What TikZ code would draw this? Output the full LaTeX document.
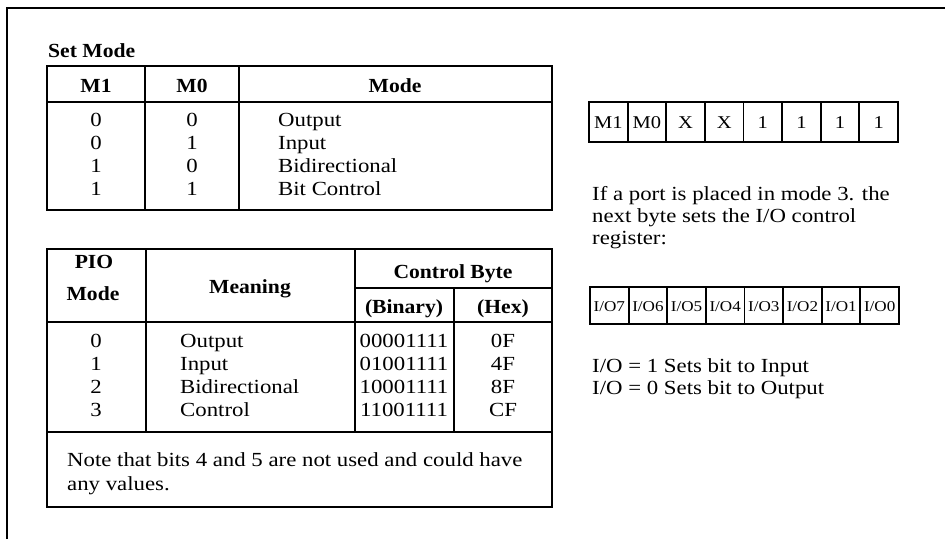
\documentclass[tikz,border=0pt]{standalone}
\usepackage{fontspec}
\setmainfont{Liberation Serif}[FakeStretch=1.14,BoldFeatures={FakeStretch=1.08}]
\begin{document}
\begin{tikzpicture}[x=1pt,y=-1pt,
  rule/.style={line width=1.8pt},
  frame/.style={line width=2pt},
  txt/.style={inner sep=0pt,font=\fontsize{20}{23}\selectfont},
  hdr/.style={inner sep=0pt,font=\fontsize{20}{23}\selectfont\bfseries},
  lt/.style={txt,anchor=base west},
  ct/.style={txt,anchor=base},
  ch/.style={hdr,anchor=base},
  bitA/.style={inner sep=0pt,anchor=base,font=\fontsize{18}{20}\selectfont},
  bitB/.style={inner sep=0pt,anchor=base,font=\fontsize{15}{17}\selectfont}]
\useasboundingbox (0,0) rectangle (945,539);
\fill[white] (0,0) rectangle (945,539);
% outer frame (left and top only)
\draw[frame] (7,539) -- (7,8) -- (945,8);

% ---------- Set Mode table ----------
\node[hdr,anchor=base west] (setmode) at (48,57) {Set Mode};
\draw[rule] (47,66) rectangle (552,210);
\draw[rule] (47,102) -- (552,102);
\draw[rule] (145,66) -- (145,210);
\draw[rule] (239,66) -- (239,210);
\node[ch] (hm1) at (96,92) {M1};
\node[ch] (hm0) at (192,92) {M0};
\node[ch] (hmode) at (395,92) {Mode};
\foreach \a/\b/\t/\y [count=\i] in {0/0/Output/126, 0/1/Input/149, 1/0/Bidirectional/172, 1/1/Bit Control/195}{
  \node[ct] (sa\i) at (96,\y) {\a};
  \node[ct] (sb\i) at (192,\y) {\b};
  \node[lt] (sc\i) at (278,\y) {\t};
}

% ---------- PIO table ----------
\draw[rule] (47,249) rectangle (552,507);
\draw[rule] (146,249) -- (146,432);
\draw[rule] (355,249) -- (355,432);
\draw[rule] (454,288) -- (454,432);
\draw[rule] (355,288) -- (552,288);
\draw[rule] (47,322) -- (552,322);
\draw[rule] (47,432) -- (552,432);
\node[ch] (hpio) at (94,268) {PIO};
\node[ch] (hpmode) at (93,300) {Mode};
\node[ch] (hmean) at (250,293) {Meaning};
\node[ch] (hcb) at (453,278) {Control Byte};
\node[ch] (hbin) at (404,313) {(Binary)};
\node[ch] (hhex) at (503,313) {(Hex)};
\foreach \m/\t/\bn/\hx/\y [count=\i] in {0/Output/00001111/0F/347, 1/Input/01001111/4F/370, 2/Bidirectional/10001111/8F/393, 3/Control/11001111/CF/416}{
  \node[ct] (pm\i) at (96,\y) {\m};
  \node[lt] (pt\i) at (180,\y) {\t};
  \node[ct] (pb\i) at (404,\y) {\bn};
  \node[ct] (ph\i) at (503,\y) {\hx};
}
\node[lt] (note1) at (67,466) {Note that bits 4 and 5 are not used and could have};
\node[lt] (note2) at (67,490) {any values.};

% ---------- bit box 1 ----------
\draw[rule] (589,102) rectangle (898,142);
\foreach \k in {1,...,7}{ \draw[rule] ({589+\k*38.625},102) -- ({589+\k*38.625},142); }
\foreach \t [count=\i] in {M1,M0,X,X,1,1,1,1}{
  \node[bitA] (ba\i) at ({589+(\i-0.5)*38.625},128) {\t};
}

\node[lt] (p1) at (592,200) {If a port is placed in mode 3. the};
\node[lt] (p2) at (592,222) {next byte sets the I/O control};
\node[lt] (p3) at (592,244) {register:};

% ---------- bit box 2 ----------
\draw[rule] (590,287) rectangle (899,324);
\foreach \k in {1,...,7}{ \draw[rule] ({590+\k*38.625},287) -- ({590+\k*38.625},324); }
\foreach \t [count=\i] in {7,6,5,4,3,2,1,0}{
  \node[bitB] (bb\i) at ({590+(\i-0.5)*38.625},311) {I/O\t};
}

\node[lt] (io1) at (592,372) {I/O = 1 Sets bit to Input};
\node[lt] (io0) at (592,394) {I/O = 0 Sets bit to Output};
\end{tikzpicture}
\end{document}
